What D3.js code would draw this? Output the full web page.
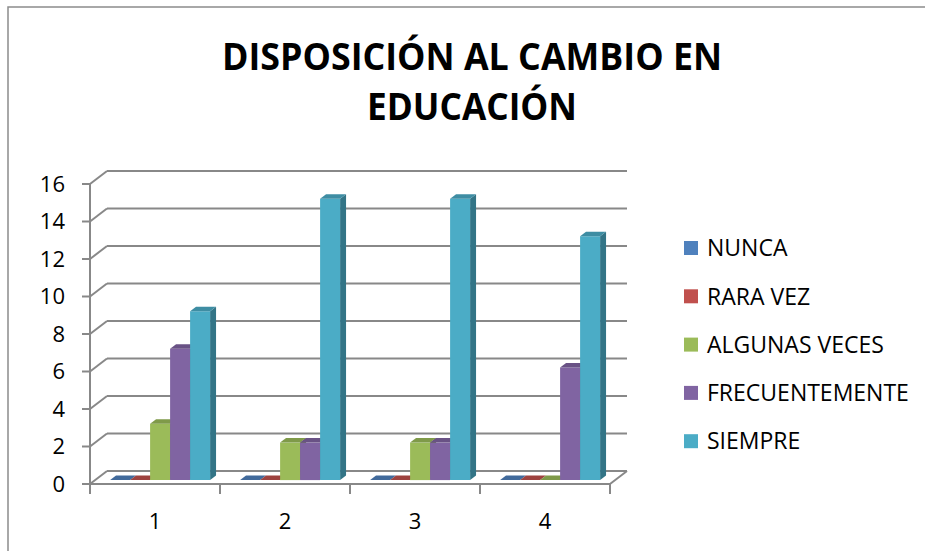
<!DOCTYPE html>
<html>
<head>
<meta charset="utf-8">
<script src="https://cdn.jsdelivr.net/npm/d3@7"></script>
<style>
  body { margin: 0; background: #fff; }
  text { font-family: "Open Sans", "Noto Sans", sans-serif; fill: #000; }
</style>
</head>
<body>
<script>
(function(){

  //chart data
  var categories = ["1", "2", "3", "4"];
  var seriesNames = ["NUNCA", "RARA VEZ", "ALGUNAS VECES", "FRECUENTEMENTE", "SIEMPRE"];
  var seriesColors = ["#4F81BD", "#C0504D", "#9BBB59", "#8064A2", "#4BACC6"];
  var nunca = [0, 0, 0, 0];
  var raraVez = [0, 0, 0, 0];
  var algunasVeces = [3, 2, 2, 0];
  var frecuentemente = [7, 2, 2, 6];
  var siempre = [9, 15, 15, 13];
  var yTicks = [0, 2, 4, 6, 8, 10, 12, 14, 16];
  var titleLines = ["DISPOSICIÓN AL CAMBIO EN", "EDUCACIÓN"];

  var seriesValues = [nunca, raraVez, algunasVeces, frecuentemente, siempre];

  var width = 925, height = 551;
  var depthX = 17, depthY = -13; //floor depth offset
  var barZ0 = 0.3, barZ1 = 0.65;  //bar depth inside floor (fractions)

  var svg = d3.select("body").append("svg")
    .attr("width", width)
    .attr("height", height);

  //outer chart border
  svg.append("rect")
    .attr("x", 8).attr("y", 7)
    .attr("width", 940).attr("height", 560)
    .attr("fill", "none")
    .attr("stroke", "#8c8c8c")
    .attr("stroke-width", 1.5);

  //title
  svg.selectAll(".title")
    .data(titleLines)
    .enter()
    .append("text")
    .attr("class", "title")
    .attr("x", 472)
    .attr("y", function(d, i){ return 70 + i * 50; })
    .attr("text-anchor", "middle")
    .attr("font-size", 38)
    .attr("font-weight", "bold")
    .attr("textLength", function(d, i){ return i == 0 ? 500 : 210; })
    .attr("lengthAdjust", "spacingAndGlyphs")
    .text(function(d){ return d; });

  //scales
  var y = d3.scaleLinear().domain([0, 16]).range([484, 184]);
  var x0 = d3.scaleBand().domain(categories).range([90, 610]);
  var x1 = d3.scaleBand().domain(seriesNames)
    .range([15, x0.bandwidth() - 15]);

  //project a front-plane point to a depth z (0 front, 1 back)
  function proj(px, py, z){
    return [px + depthX * z, py + depthY * z];
  }

  var gridColor = "#888";

  //back wall gridlines and side wall diagonals
  var grid = svg.append("g").attr("class", "grid");
  yTicks.forEach(function(t){
    var yy = y(t);
    grid.append("line")
      .attr("x1", 90 + depthX).attr("y1", yy + depthY)
      .attr("x2", 610 + depthX).attr("y2", yy + depthY)
      .attr("stroke", gridColor).attr("stroke-width", 2);
    grid.append("line")
      .attr("x1", 90).attr("y1", yy)
      .attr("x2", 90 + depthX).attr("y2", yy + depthY)
      .attr("stroke", gridColor).attr("stroke-width", 2);
    grid.append("line")
      .attr("x1", 82).attr("y1", yy)
      .attr("x2", 90).attr("y2", yy)
      .attr("stroke", gridColor).attr("stroke-width", 2);
  });

  //floor front edge and right edge
  grid.append("line")
    .attr("x1", 90).attr("y1", y(0))
    .attr("x2", 610).attr("y2", y(0))
    .attr("stroke", gridColor).attr("stroke-width", 2);
  grid.append("line")
    .attr("x1", 610).attr("y1", y(0))
    .attr("x2", 610 + depthX).attr("y2", y(0) + depthY)
    .attr("stroke", gridColor).attr("stroke-width", 2);
  //vertical axis
  grid.append("line")
    .attr("x1", 90).attr("y1", y(16))
    .attr("x2", 90).attr("y2", y(0))
    .attr("stroke", gridColor).attr("stroke-width", 2);

  //category ticks
  var catTicks = categories.map(function(c){ return x0(c); }).concat([610]);
  catTicks.forEach(function(cx){
    grid.append("line")
      .attr("x1", cx).attr("y1", y(0))
      .attr("x2", cx).attr("y2", y(0) + 10)
      .attr("stroke", gridColor).attr("stroke-width", 2);
  });

  //y labels
  svg.selectAll(".ylab")
    .data(yTicks)
    .enter()
    .append("text")
    .attr("class", "ylab")
    .attr("x", 65)
    .attr("y", function(d){ return y(d); })
    .attr("dy", "0.36em")
    .attr("text-anchor", "end")
    .attr("font-size", 22)
    .text(function(d){ return d; });

  //category labels
  svg.selectAll(".xlab")
    .data(categories)
    .enter()
    .append("text")
    .attr("class", "xlab")
    .attr("x", function(d){ return x0(d) + x0.bandwidth() / 2; })
    .attr("y", 529)
    .attr("text-anchor", "middle")
    .attr("font-size", 22)
    .text(function(d){ return d; });

  //bars, drawn left to right
  var bars = svg.append("g").attr("class", "bars");
  categories.forEach(function(cat, ci){
    seriesNames.forEach(function(s, si){
      var v = seriesValues[si][ci];
      var col = d3.color(seriesColors[si]);
      var left = x0(cat) + x1(s);
      var right = left + x1.bandwidth();
      var base = y(0), top = y(v);

      var fbl = proj(left, base, barZ0), fbr = proj(right, base, barZ0),
          ftl = proj(left, top, barZ0), ftr = proj(right, top, barZ0),
          btl = proj(left, top, barZ1), btr = proj(right, top, barZ1),
          bbr = proj(right, base, barZ1);

      if (v > 0){
        //side face
        bars.append("path")
          .attr("d", "M" + [fbr, ftr, btr, bbr].join("L") + "Z")
          .attr("fill", col.darker(1.1));
        //front face
        bars.append("path")
          .attr("d", "M" + [fbl, fbr, ftr, ftl].join("L") + "Z")
          .attr("fill", col);
      }
      //top face
      bars.append("path")
        .attr("d", "M" + [ftl, ftr, btr, btl].join("L") + "Z")
        .attr("fill", col.darker(0.55));
    });
  });

  //legend
  var legend = svg.selectAll(".legend")
    .data(seriesNames)
    .enter()
    .append("g")
    .attr("class", "legend")
    .attr("transform", function(d, i){ return "translate(684," + (248 + i * 48.3) + ")"; });

  legend.append("rect")
    .attr("x", 0).attr("y", -7)
    .attr("width", 14).attr("height", 14)
    .attr("fill", function(d, i){ return seriesColors[i]; });

  legend.append("text")
    .attr("x", 23)
    .attr("y", 0)
    .attr("dy", "0.36em")
    .attr("font-size", 23)
    .text(function(d){ return d; });
})();
</script>
</body>
</html>
